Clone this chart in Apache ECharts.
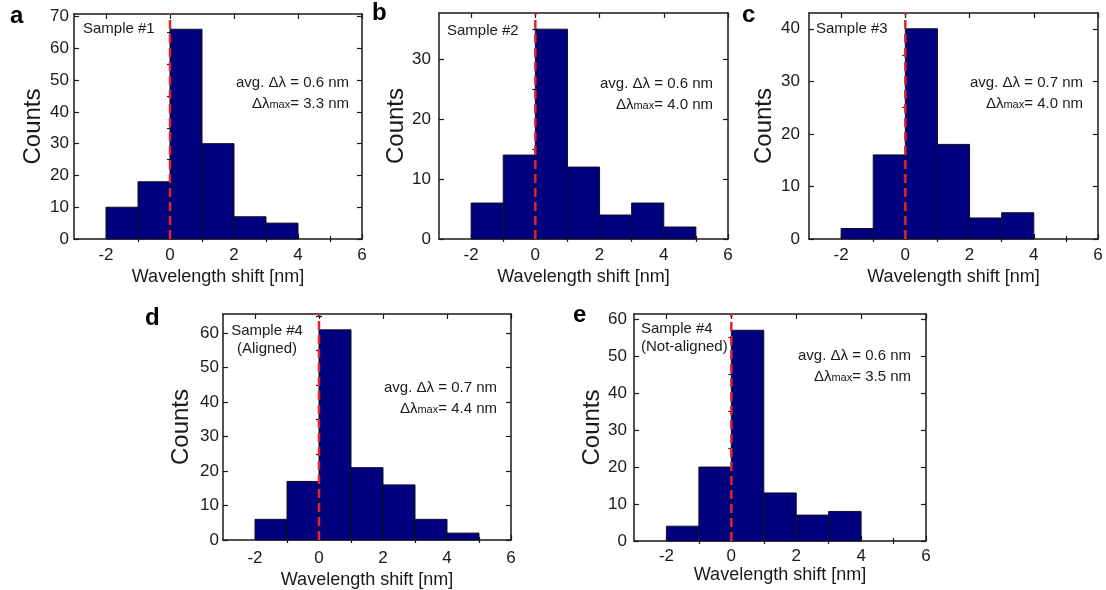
<!DOCTYPE html>
<html><head><meta charset="utf-8">
<script src="https://cdn.jsdelivr.net/npm/echarts@6/dist/echarts.min.js"></script>
<style>html,body{margin:0;padding:0;background:#fff}#c{width:1106px;height:590px}</style>
</head><body><div id="c"></div>
<script>
// ---------------- data ----------------
const binStarts = [-2, -1, 0, 1, 2, 3, 4];
const binWidth = 1;
const countsA = [10, 18, 66, 30, 7, 5];
const countsB = [6, 14, 35, 12, 4, 6, 2];
const countsC = [2, 16, 40, 18, 4, 5];
const countsD = [6, 17, 61, 21, 16, 6, 2];
const countsE = [4, 20, 57, 13, 7, 8];
const allCounts = [countsA, countsB, countsC, countsD, countsE];
const panelLetters = ['a', 'b', 'c', 'd', 'e'];
const sampleLines = [['Sample #1'], ['Sample #2'], ['Sample #3'], ['Sample #4', '(Aligned)'], ['Sample #4', '(Not-aligned)']];
const avgShift = ['0.6', '0.6', '0.7', '0.7', '0.6'];
const maxShift = ['3.3', '4.0', '4.0', '4.4', '3.5'];
const xMajorTicks = [-2, 0, 2, 4, 6];
const xMinorTicks = [-1, 1, 3, 5];
const xRange = [-3, 6];
const yMaxes = [70.8, 37.7, 43, 65.6, 61.4];
const yMajorTicks = [
  [0, 10, 20, 30, 40, 50, 60, 70],
  [0, 10, 20, 30],
  [0, 10, 20, 30, 40],
  [0, 10, 20, 30, 40, 50, 60],
  [0, 10, 20, 30, 40, 50, 60]
];
const yMinorTicks = [
  [5, 15, 25, 35, 45, 55, 65],
  [5, 15, 25, 35],
  [5, 15, 25, 35],
  [5, 15, 25, 35, 45, 55, 65],
  [5, 15, 25, 35, 45, 55]
];
const xTitle = 'Wavelength shift [nm]';
const yTitle = 'Counts';

// ---------------- layout ----------------
const layout = [
  { left: 74, top: 14, width: 288, height: 225, xGap: 29, yGap: 29, xMargin: 8, yMargin: 5, letter: [10, 16], sample: 'left', sampleDx: 9, sampleY: 29, noteDx: 13, noteY: 83 },
  { left: 439, top: 13, width: 289, height: 226, xGap: 29, yGap: 31, xMargin: 8, yMargin: 8, letter: [372, 13], sample: 'left', sampleDx: 8, sampleY: 31, noteDx: 15, noteY: 84 },
  { left: 809, top: 13, width: 289, height: 226, xGap: 29, yGap: 33, xMargin: 8, yMargin: 9, letter: [742, 15], sample: 'left', sampleDx: 7, sampleY: 29, noteDx: 15, noteY: 83 },
  { left: 223, top: 314, width: 288, height: 226, xGap: 31, yGap: 30, xMargin: 10, yMargin: 4, letter: [145, 318], sample: 'center', sampleDx: 44, sampleY: 331, noteDx: 14, noteY: 388 },
  { left: 634, top: 314, width: 292, height: 227, xGap: 24, yGap: 26, xMargin: 7, yMargin: 7, letter: [573, 315], sample: 'left', sampleDx: 7, sampleY: 329, noteDx: 15, noteY: 356 }
];
const FONT = '"Liberation Sans", Arial, sans-serif';
const INK = '#1a1a1a';
const BAR = '#00007e';
const DASH = '#e2232b';

const chart = echarts.init(document.getElementById('c'), null, { renderer: 'canvas' });

const grids = [], xAxes = [], yAxes = [], series = [], graphics = [];

layout.forEach((L, i) => {
  grids.push({ left: L.left, top: L.top, width: L.width, height: L.height, show: false, containLabel: false, outerBoundsMode: 'none' });
  const tickStyle = { color: INK, width: 1.2 };
  const baseX = { type: 'value', gridIndex: i, min: xRange[0], max: xRange[1], splitLine: { show: false }, axisLine: { onZero: false, lineStyle: { color: INK, width: 1.5 } } };
  xAxes.push(Object.assign({}, baseX, {
    position: 'bottom',
    name: xTitle, nameLocation: 'middle', nameGap: L.xGap,
    nameTextStyle: { fontFamily: FONT, fontSize: 18, color: INK },
    axisTick: { show: true, inside: true, length: 5, customValues: xMajorTicks, lineStyle: tickStyle },
    axisLabel: { show: true, customValues: xMajorTicks, margin: L.xMargin, fontFamily: FONT, fontSize: 17, color: INK }
  }));
  xAxes.push(Object.assign({}, baseX, {
    position: 'bottom', axisLine: { show: false },
    axisTick: { show: true, inside: true, length: 3, customValues: xMinorTicks, lineStyle: tickStyle },
    axisLabel: { show: false }
  }));
  xAxes.push(Object.assign({}, baseX, {
    position: 'top',
    axisTick: { show: true, inside: true, length: 5, customValues: xMajorTicks, lineStyle: tickStyle },
    axisLabel: { show: false }
  }));
  xAxes.push(Object.assign({}, baseX, {
    position: 'top', axisLine: { show: false },
    axisTick: { show: true, inside: true, length: 3, customValues: xMinorTicks, lineStyle: tickStyle },
    axisLabel: { show: false }
  }));
  const baseY = { type: 'value', gridIndex: i, min: 0, max: yMaxes[i], splitLine: { show: false }, axisLine: { show: true, onZero: false, lineStyle: { color: INK, width: 1.5 } } };
  yAxes.push(Object.assign({}, baseY, {
    position: 'left',
    name: yTitle, nameLocation: 'middle', nameGap: L.yGap, nameRotate: 90,
    nameTextStyle: { fontFamily: FONT, fontSize: 24, color: INK },
    axisTick: { show: true, inside: true, length: 5, customValues: yMajorTicks[i], lineStyle: tickStyle },
    axisLabel: { show: true, customValues: yMajorTicks[i], margin: L.yMargin, fontFamily: FONT, fontSize: 17, color: INK }
  }));
  yAxes.push(Object.assign({}, baseY, {
    position: 'left', axisLine: { show: false },
    axisTick: { show: true, inside: true, length: 3, customValues: yMinorTicks[i], lineStyle: tickStyle },
    axisLabel: { show: false }
  }));
  yAxes.push(Object.assign({}, baseY, {
    position: 'right',
    axisTick: { show: true, inside: true, length: 5, customValues: yMajorTicks[i], lineStyle: tickStyle },
    axisLabel: { show: false }
  }));
  yAxes.push(Object.assign({}, baseY, {
    position: 'right', axisLine: { show: false },
    axisTick: { show: true, inside: true, length: 3, customValues: yMinorTicks[i], lineStyle: tickStyle },
    axisLabel: { show: false }
  }));

  const counts = allCounts[i];
  const barData = counts.map((c, k) => [binStarts[k], binStarts[k] + binWidth, c]);
  series.push({
    type: 'custom', xAxisIndex: 4 * i, yAxisIndex: 4 * i, z: 3,
    encode: { x: [0, 1], y: 2 },
    data: barData,
    renderItem: (params, api) => {
      const p0 = api.coord([api.value(0), api.value(2)]);
      const p1 = api.coord([api.value(1), 0]);
      return { type: 'rect', shape: { x: p0[0], y: p0[1], width: p1[0] - p0[0], height: p1[1] - p0[1] }, style: { fill: BAR, stroke: '#101020', lineWidth: 1 } };
    }
  });
  series.push({
    type: 'line', xAxisIndex: 4 * i, yAxisIndex: 4 * i, z: 5,
    data: [[0, 0], [0, yMaxes[i]]], symbol: 'none', silent: true,
    lineStyle: { color: DASH, width: 2.5, type: [9, 5] }
  });

  graphics.push({ type: 'text', left: L.letter[0], top: L.letter[1] - 12, style: { text: panelLetters[i], font: 'bold 24px ' + FONT, fill: '#000' } });
  sampleLines[i].forEach((t, k) => {
    graphics.push({ type: 'text', x: L.left + L.sampleDx, y: L.sampleY + k * 18,
      style: { text: t, font: '15px ' + FONT, fill: INK, align: L.sample, verticalAlign: 'middle' } });
  });
  const rx = L.left + L.width - L.noteDx;
  graphics.push({ type: 'text', x: rx, y: L.noteY,
    style: { text: 'avg. \u0394\u03bb = ' + avgShift[i] + ' nm', font: '15px ' + FONT, fill: INK, align: 'right', verticalAlign: 'middle' } });
  graphics.push({ type: 'text', x: rx, y: L.noteY + 21,
    style: { text: '{n|\u0394\u03bb}{s|max}{n|= ' + maxShift[i] + ' nm}', align: 'right', verticalAlign: 'middle',
      rich: { n: { font: '15px ' + FONT, fill: INK, color: INK, verticalAlign: 'bottom', height: 17 }, s: { font: '11px ' + FONT, fill: INK, color: INK, verticalAlign: 'bottom', height: 15 } } } });
});

chart.setOption({
  backgroundColor: '#ffffff',
  animation: false,
  grid: grids,
  xAxis: xAxes,
  yAxis: yAxes,
  series: series,
  graphic: { elements: graphics }
});
</script>
</body></html>
